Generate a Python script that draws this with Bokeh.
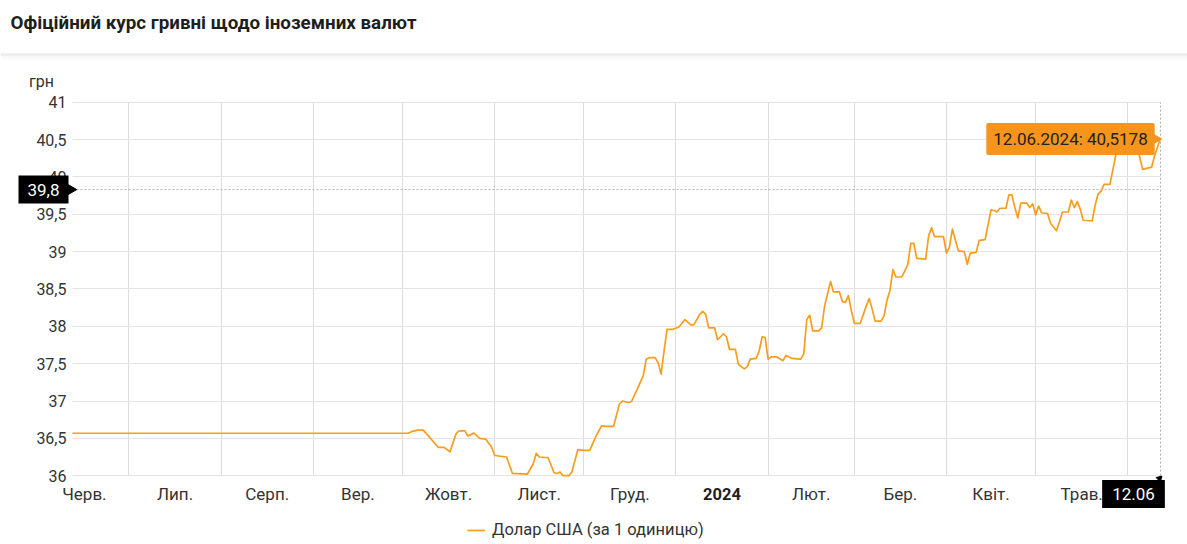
import math
import pandas as pd
from bokeh.plotting import figure
from bokeh.models import (Range1d, FixedTicker, CustomJSTickFormatter, Span, Label,
                          Legend, LegendItem)
from bokeh.embed import file_html
from bokeh.resources import INLINE

# ---------------- data ----------------
title_text = "Офіційний курс гривні щодо іноземних валют"
unit_label = "грн"
series_name = "Долар США (за 1 одиницю)"

range_start = "2023-06-12"
range_end = "2024-06-12"

month_starts = ["2023-06-01", "2023-07-01", "2023-08-01", "2023-09-01", "2023-10-01",
                "2023-11-01", "2023-12-01", "2024-01-01", "2024-02-01", "2024-03-01",
                "2024-04-01", "2024-05-01", "2024-06-01"]
month_names = ["Черв.", "Лип.", "Серп.", "Вер.", "Жовт.", "Лист.", "Груд.", "2024",
               "Лют.", "Бер.", "Квіт.", "Трав.", "Черв."]
bold_month_names = ["2024"]

y_ticks = [36, 36.5, 37, 37.5, 38, 38.5, 39, 39.5, 40, 40.5, 41]

dates = [
    "2023-06-12", "2023-10-03", "2023-10-04", "2023-10-06", "2023-10-08", "2023-10-10",
    "2023-10-13", "2023-10-15", "2023-10-17", "2023-10-19", "2023-10-20", "2023-10-22",
    "2023-10-23", "2023-10-25", "2023-10-27", "2023-10-29", "2023-10-31", "2023-11-01",
    "2023-11-05", "2023-11-07", "2023-11-12", "2023-11-14", "2023-11-15", "2023-11-16",
    "2023-11-19", "2023-11-21", "2023-11-22", "2023-11-23", "2023-11-24", "2023-11-26",
    "2023-11-27", "2023-11-29", "2023-12-01", "2023-12-03", "2023-12-05", "2023-12-07",
    "2023-12-08", "2023-12-11", "2023-12-13", "2023-12-14", "2023-12-16", "2023-12-17",
    "2023-12-19", "2023-12-21", "2023-12-22", "2023-12-23", "2023-12-25", "2023-12-26",
    "2023-12-27", "2023-12-28", "2023-12-29", "2023-12-31", "2024-01-02", "2024-01-04",
    "2024-01-06", "2024-01-07", "2024-01-09", "2024-01-10", "2024-01-11", "2024-01-12",
    "2024-01-14", "2024-01-15", "2024-01-17", "2024-01-18", "2024-01-19", "2024-01-21",
    "2024-01-22", "2024-01-24", "2024-01-25", "2024-01-26", "2024-01-28", "2024-01-29",
    "2024-01-30", "2024-01-31", "2024-02-01", "2024-02-02", "2024-02-04", "2024-02-06",
    "2024-02-07", "2024-02-09", "2024-02-12", "2024-02-13", "2024-02-14", "2024-02-15",
    "2024-02-16", "2024-02-18", "2024-02-19", "2024-02-20", "2024-02-22", "2024-02-23",
    "2024-02-25", "2024-02-26", "2024-02-27", "2024-02-28", "2024-02-29", "2024-03-01",
    "2024-03-03", "2024-03-05", "2024-03-06", "2024-03-07", "2024-03-08", "2024-03-10",
    "2024-03-11", "2024-03-12", "2024-03-13", "2024-03-14", "2024-03-15", "2024-03-17",
    "2024-03-19", "2024-03-20", "2024-03-21", "2024-03-22", "2024-03-25", "2024-03-26",
    "2024-03-27", "2024-03-28", "2024-03-31", "2024-04-01", "2024-04-02", "2024-04-03",
    "2024-04-05", "2024-04-07", "2024-04-08", "2024-04-09", "2024-04-11", "2024-04-12",
    "2024-04-14", "2024-04-16", "2024-04-17", "2024-04-18", "2024-04-19", "2024-04-21",
    "2024-04-22", "2024-04-23", "2024-04-24", "2024-04-25", "2024-04-26", "2024-04-28",
    "2024-04-29", "2024-04-30", "2024-05-01", "2024-05-02", "2024-05-03", "2024-05-05",
    "2024-05-06", "2024-05-08", "2024-05-09", "2024-05-10", "2024-05-12", "2024-05-13",
    "2024-05-14", "2024-05-15", "2024-05-16", "2024-05-17", "2024-05-20", "2024-05-21",
    "2024-05-22", "2024-05-23", "2024-05-24", "2024-05-26", "2024-05-28", "2024-05-29",
    "2024-05-30", "2024-06-01", "2024-06-03", "2024-06-04", "2024-06-06", "2024-06-09",
    "2024-06-10", "2024-06-12",
]
usd = [
    36.5686, 36.5686, 36.59, 36.61, 36.61, 36.52,
    36.38, 36.38, 36.32, 36.56, 36.60, 36.60,
    36.53, 36.57, 36.50, 36.49, 36.38, 36.27,
    36.25, 36.03, 36.02, 36.16, 36.30, 36.25,
    36.24, 36.04, 36.03, 36.05, 36.00, 36.00,
    36.05, 36.35, 36.34, 36.34, 36.52, 36.67,
    36.66, 36.66, 36.96, 37.00, 36.98, 36.99,
    37.16, 37.34, 37.56, 37.58, 37.58, 37.51,
    37.36, 37.67, 37.96, 37.96, 37.99, 38.09,
    38.02, 38.02, 38.16, 38.20, 38.16, 37.98,
    37.98, 37.82, 37.90, 37.86, 37.69, 37.69,
    37.49, 37.43, 37.46, 37.56, 37.57, 37.67,
    37.86, 37.85, 37.56, 37.59, 37.59, 37.54,
    37.61, 37.57, 37.56, 37.63, 38.09, 38.15,
    37.94, 37.94, 37.98, 38.27, 38.60, 38.46,
    38.46, 38.33, 38.32, 38.41, 38.21, 38.04,
    38.04, 38.27, 38.37, 38.23, 38.07, 38.07,
    38.14, 38.35, 38.48, 38.76, 38.66, 38.66,
    38.83, 39.11, 39.11, 38.91, 38.90, 39.21,
    39.32, 39.20, 39.20, 38.98, 39.06, 39.30,
    39.01, 39.00, 38.83, 38.98, 38.99, 39.15,
    39.16, 39.56, 39.55, 39.53, 39.58, 39.58,
    39.76, 39.76, 39.59, 39.45, 39.65, 39.65,
    39.59, 39.64, 39.49, 39.61, 39.52, 39.51,
    39.38, 39.28, 39.40, 39.53, 39.53, 39.69,
    39.59, 39.67, 39.57, 39.42, 39.41, 39.62,
    39.77, 39.81, 39.90, 39.90, 40.30, 40.46,
    40.53, 40.55, 40.50, 40.43, 40.10, 40.13,
    40.28, 40.5178,
]

crosshair_value = 39.83          # cursor position, shown rounded as "39,8"
crosshair_value_text = "39,8"
crosshair_date = "2024-06-12"
crosshair_date_text = "12.06"
tooltip_text = "12.06.2024: 40,5178"

# ---------------- layout (canvas pixels) ----------------
W, H = 1187, 544
PL, PR, PT, PB = 72.0, 1160.0, 101.7, 475.2     # plot area inside the canvas

t0 = pd.Timestamp(range_start)
def day(s):
    return (pd.Timestamp(s) - t0).days

xs = [day(d) for d in dates]
x_end = day(range_end)
y_lo, y_hi = y_ticks[0], y_ticks[-1]

kx = (PR - PL) / x_end
ky = (PB - PT) / (y_hi - y_lo)
def X(cx):          # canvas px -> data x
    return (cx - PL) / kx
def Y(cy):          # canvas px -> data y
    return y_hi - (cy - PT) / ky

grid_days = [day(m) for m in month_starts if 0 < day(m) <= x_end]
mid_pos, mid_names, bold_items = [], [], []
for m, name in zip(month_starts, month_names):
    mid = day(m) + pd.Timestamp(m).days_in_month / 2.0
    if 0 <= mid <= x_end:
        mid_pos.append(mid)
        if name in bold_month_names:
            bold_items.append((mid, name))
            mid_names.append("")
        else:
            mid_names.append(name)

FONT = "Roboto"
ORANGE = "#f99d1c"
TEXT = "#333333"

# ---------------- figure ----------------
p = figure(width=W, height=H, output_backend="svg", toolbar_location=None,
           x_range=Range1d(X(0), X(W)), y_range=Range1d(Y(H), Y(0)),
           min_border=0, min_border_left=0, min_border_right=0,
           min_border_top=0, min_border_bottom=0)
p.outline_line_color = None
p.background_fill_color = "white"
p.border_fill_color = "white"

# axes fixed to the plot area edges
p.xaxis.fixed_location = y_lo
p.yaxis.fixed_location = 0
p.xaxis.ticker = FixedTicker(ticks=mid_pos)
p.xaxis.formatter = CustomJSTickFormatter(
    args=dict(pos=mid_pos, names=mid_names),
    code="for (let i = 0; i < pos.length; i++) { if (Math.abs(pos[i] - tick) < 0.01) return names[i]; } return '';")
p.yaxis.ticker = FixedTicker(ticks=y_ticks)
p.yaxis.formatter = CustomJSTickFormatter(
    code="return Number.isInteger(tick) ? tick.toFixed(0) : tick.toFixed(1).replace('.', ',');")
for ax in (p.xaxis[0], p.yaxis[0]):
    ax.axis_line_color = None
    ax.major_tick_line_color = None
    ax.minor_tick_line_color = None
    ax.major_tick_out = 0
    ax.major_tick_in = 0
    ax.major_label_text_font = FONT
    ax.major_label_text_color = TEXT
p.xaxis.major_label_text_font_size = "17px"
p.yaxis.major_label_text_font_size = "16px"
p.xaxis.major_label_standoff = 8
p.yaxis.major_label_standoff = 6

p.xgrid.ticker = FixedTicker(ticks=grid_days)
p.xgrid.cross_bounds = (y_lo, y_hi)
p.ygrid.ticker = FixedTicker(ticks=y_ticks)
p.ygrid.cross_bounds = (0, x_end)
p.xgrid.grid_line_color = "#dcdcdc"
p.ygrid.grid_line_color = "#e4e4e4"

# header
p.add_layout(Label(x=X(10), y=Y(22), text=title_text, text_align="left", text_baseline="middle",
                   text_font=FONT, text_font_size="18.8px", text_font_style="bold",
                   text_color="#1e1e1e"))
p.add_layout(Span(location=Y(53.5), dimension="width", line_color="#dedede", line_width=1))
p.add_layout(Span(location=Y(55), dimension="width", line_color="#efefef", line_width=2))
p.add_layout(Span(location=Y(57), dimension="width", line_color="#f8f8f8", line_width=2))

# unit
p.add_layout(Label(x=X(41), y=Y(81), text=unit_label, text_align="center",
                   text_baseline="middle", text_font=FONT, text_font_size="16px",
                   text_color=TEXT))

# bold year label among month labels
for pos, name in bold_items:
    p.add_layout(Label(x=pos, y=Y(PB + 18), text=name, text_align="center",
                       text_baseline="middle", text_font=FONT, text_font_size="16.5px",
                       text_font_style="bold", text_color="#1e1e1e"))

# data line
r = p.line(xs, usd, line_color=ORANGE, line_width=1.7, line_join="round")

# crosshair
xc = day(crosshair_date)
p.segment(x0=[0], x1=[x_end], y0=[crosshair_value], y1=[crosshair_value],
          line_color="#b0b0b0", line_dash="2 2", line_width=1)
p.segment(x0=[xc], x1=[xc], y0=[y_lo], y1=[y_hi],
          line_color="#b0b0b0", line_dash="2 2", line_width=1)

# crosshair value box (left)
p.scatter(x=[X(70.5)], y=[crosshair_value], marker="triangle", size=10, angle=-math.pi / 2,
          fill_color="black", line_color="black")
p.add_layout(Label(x=X(43), y=crosshair_value, text=crosshair_value_text, text_align="center",
                   text_baseline="middle", text_font=FONT, text_font_size="17px",
                   text_color="white", background_fill_color="black", padding=(9, 8)))
# crosshair date box (bottom)
p.scatter(x=[X(1159)], y=[Y(478)], marker="triangle", size=6, angle=-math.pi / 4,
          fill_color="black", line_color="black")
p.add_layout(Label(x=X(1133), y=Y(493.5), text=crosshair_date_text, text_align="center",
                   text_baseline="middle", text_font=FONT, text_font_size="17px",
                   text_color="white", background_fill_color="black", padding=(10, 8)))

# tooltip
p.scatter(x=[X(1156)], y=[Y(138.5)], marker="triangle", size=9, angle=-math.pi / 2,
          fill_color="#f6941c", line_color="#f6941c")
p.add_layout(Label(x=X(1070), y=Y(138.5), text=tooltip_text, text_align="center",
                   text_baseline="middle", text_font=FONT, text_font_size="17px",
                   text_color="#222222", background_fill_color="#f6941c", padding=(7, 6),
                   border_radius=2))

legend = Legend(items=[LegendItem(label=series_name, renderers=[r])],
                location=(467, 5), orientation="horizontal", margin=0, padding=0,
                border_line_color=None, background_fill_alpha=0,
                glyph_width=18, glyph_height=16, label_standoff=7,
                label_text_font=FONT, label_text_font_size="16.5px", label_text_color=TEXT)
p.add_layout(legend)

open("out.html", "w").write(file_html(p, INLINE))
